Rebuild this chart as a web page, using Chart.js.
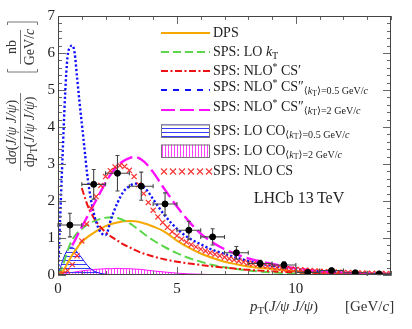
<!DOCTYPE html>
<html>
<head>
<meta charset="utf-8">
<script src="https://cdn.jsdelivr.net/npm/chart.js@4.4.0/dist/chart.umd.min.js"></script>
<style>
  html, body { margin: 0; padding: 0; background: #fff; }
</style>
</head>
<body>
<canvas id="chart" width="412" height="329"></canvas>
<script>
// values (pT in GeV/c, cross-section in nb/(GeV/c))
const gridX  = [0, 0.1, 0.2, 0.3, 0.4, 0.5, 0.6, 0.7, 0.8, 0.9, 1, 1.1, 1.25, 1.5, 1.75, 2, 2.25, 2.5, 2.75, 3, 3.25, 3.5, 3.75, 4, 4.5, 5, 5.5, 6, 6.5, 7, 7.5, 8, 9, 10, 11, 12, 13, 14];
const dps    = [0, 0.03, 0.1, 0.2, 0.32, 0.43, 0.54, 0.64, 0.73, 0.82, 0.89, 0.95, 1.03, 1.14, 1.24, 1.32, 1.38, 1.42, 1.45, 1.46, 1.45, 1.42, 1.37, 1.31, 1.16, 0.93, 0.74, 0.58, 0.46, 0.36, 0.29, 0.23, 0.16, 0.1, 0.07, 0.05, 0.03, 0.02];
const loKt   = [0, 0.1, 0.25, 0.45, 0.65, 0.82, 0.95, 1.05, 1.13, 1.2, 1.25, 1.3, 1.36, 1.45, 1.51, 1.55, 1.56, 1.54, 1.48, 1.4, 1.29, 1.17, 1.05, 0.94, 0.75, 0.59, 0.46, 0.36, 0.27, 0.21, 0.16, 0.12, 0.07, 0.04, 0.03, 0.02, 0.01, 0.01];
const nloCs1 = [null, null, null, null, null, null, null, null, null, null, 2.35, 2.15, 1.87, 1.55, 1.32, 1.16, 1.03, 0.93, 0.83, 0.75, 0.67, 0.6, 0.55, 0.5, 0.42, 0.36, 0.31, 0.27, 0.23, 0.2, 0.17, 0.14, 0.1, 0.07, 0.05, 0.04, 0.03, 0.02];
const nloCs2a = [0, 1.7, 3.35, 4.9, 5.9, 6.15, 6.2, 6.0, 5.35, 4.7, 4.1, 3.5, 2.6, 1.68, 1.2, 1.08, 1.55, 1.95, 2.25, 2.4, 2.47, 2.42, 2.28, 2.05, 1.6, 1.25, 1.0, 0.83, 0.68, 0.57, 0.47, 0.38, 0.25, 0.16, 0.1, 0.07, 0.04, 0.03];
const nloCs2b = [null, null, null, null, null, null, 0.8, 0.92, 1.05, 1.17, 1.3, 1.42, 1.6, 1.9, 2.2, 2.5, 2.75, 2.95, 3.08, 3.16, 3.19, 3.12, 2.98, 2.78, 2.3, 1.85, 1.45, 1.12, 0.88, 0.7, 0.56, 0.45, 0.3, 0.18, 0.1, 0.06, 0.04, 0.02];
const loCoA  = [0, 0.2, 0.4, 0.56, 0.68, 0.75, 0.75, 0.7, 0.62, 0.54, 0.46, 0.37, 0.25, 0.11, 0.05, 0.02, 0.01, 0, 0, 0, 0, 0, 0, 0, 0, 0, 0, 0, 0, 0, 0, 0, 0, 0, 0, 0, 0, 0];
const loCoB  = [0, 0.01, 0.02, 0.03, 0.05, 0.06, 0.07, 0.08, 0.09, 0.1, 0.11, 0.12, 0.13, 0.15, 0.16, 0.17, 0.17, 0.18, 0.17, 0.17, 0.16, 0.15, 0.13, 0.11, 0.08, 0.05, 0.03, 0.02, 0.01, 0.01, 0, 0, 0, 0, 0, 0, 0, 0];

const nloCsX = [0, 0.2, 0.4, 0.6, 0.8, 1, 1.2, 1.4, 1.6, 1.8, 2, 2.2, 2.4, 2.6, 2.8, 3, 3.2, 3.4, 3.6, 3.8, 4, 4.2, 4.4, 4.6, 4.8, 5, 5.2, 5.4, 5.6, 5.8, 6, 6.2, 6.4, 6.6, 6.8, 7, 7.2, 7.4, 7.6, 7.8, 8, 8.2, 8.4, 8.6, 8.8, 9, 9.2, 9.4, 9.6, 9.8, 10, 10.2, 10.4, 10.6, 10.8, 11, 11.2, 11.4, 11.6, 11.8, 12, 12.2, 12.4, 12.6, 12.8, 13, 13.2, 13.4, 13.6, 13.8, 14];
const nloCsY = [0, 0.04, 0.12, 0.28, 0.52, 0.92, 1.38, 1.8, 2.12, 2.42, 2.66, 2.82, 2.92, 2.96, 2.93, 2.83, 2.66, 2.44, 2.2, 1.96, 1.75, 1.57, 1.42, 1.29, 1.17, 1.06, 0.97, 0.89, 0.82, 0.76, 0.7, 0.65, 0.6, 0.56, 0.52, 0.48, 0.44, 0.41, 0.38, 0.35, 0.32, 0.3, 0.28, 0.26, 0.24, 0.22, 0.2, 0.19, 0.17, 0.16, 0.15, 0.14, 0.13, 0.12, 0.11, 0.1, 0.09, 0.085, 0.08, 0.075, 0.07, 0.065, 0.06, 0.055, 0.05, 0.047, 0.044, 0.041, 0.038, 0.035, 0.032];

const dataX  = [0.5, 1.5, 2.5, 3.5, 4.5, 5.5, 6.5, 7.5, 8.5, 9.5, 10.5, 11.5, 12.5, 13.5];
const dataY  = [1.35, 2.45, 2.75, 2.4, 1.92, 1.21, 1.03, 0.6, 0.31, 0.27, 0.07, 0.12, 0.06, 0.03];
const dataEy = [0.32, 0.4, 0.48, 0.38, 0.3, 0.24, 0.22, 0.17, 0.09, 0.09, 0.04, 0.04, 0.03, 0.02];
const dataEx = [0.5, 0.5, 0.5, 0.5, 0.5, 0.5, 0.5, 0.5, 0.5, 0.5, 0.5, 0.5, 0.5, 0.5];

const xTicks = [0, 5, 10];
const yTicks = [0, 1, 2, 3, 4, 5, 6, 7];

const serif = '"Liberation Serif", "DejaVu Serif", serif';
const col = {
  dps: '#f5a800', green: '#5cd64a', red: '#ee1111', blue: '#1010ff', mag: '#ff10ff', cross: 'rgba(250,40,40,0.95)'
};

function pts(xs, ys) {
  return xs.map((x, i) => ({ x: x, y: ys[i] })).filter(p => p.y !== null);
}

const canvas = document.getElementById('chart');
const ctx0 = canvas.getContext('2d');

function hatch(color, vertical, step) {
  const c = document.createElement('canvas');
  c.width = step; c.height = step;
  const g = c.getContext('2d');
  g.strokeStyle = color;
  g.lineWidth = 1;
  g.beginPath();
  if (vertical) { g.moveTo(0.5, 0); g.lineTo(0.5, step); }
  else { g.moveTo(0, 0.5); g.lineTo(step, 0.5); }
  g.stroke();
  return ctx0.createPattern(c, 'repeat');
}
const blueHatch = hatch('#3a3aff', false, 4);
const magHatch = hatch('#ff40ff', true, 3);

// rich text: segments [text, flags]; flags: i italic, 1/2 subscript level, ^ superscript
function richFont(size, f) {
  let s = size;
  if (f.includes('1')) s = size * 0.72;
  if (f.includes('2')) s = size * 0.55;
  if (f.includes('^')) s = size * 0.7;
  return (f.includes('i') ? 'italic ' : '') + s.toFixed(1) + 'px ' + serif;
}
function richOff(size, f) {
  if (f.includes('2')) return size * 0.45;
  if (f.includes('1')) return size * 0.3;
  if (f.includes('^')) return -size * 0.28;
  return 0;
}
function richWidth(ctx, segs, size) {
  let w = 0;
  segs.forEach(s => { ctx.font = richFont(size, s[1]); w += ctx.measureText(s[0]).width; });
  return w;
}
function rich(ctx, segs, x, y, size, align) {
  let cx = x;
  if (align === 'center') cx = x - richWidth(ctx, segs, size) / 2;
  ctx.textBaseline = 'middle';
  ctx.textAlign = 'left';
  segs.forEach(s => {
    ctx.font = richFont(size, s[1]);
    ctx.fillText(s[0], cx, y + richOff(size, s[1]));
    cx += ctx.measureText(s[0]).width;
  });
}

const kt05 = [['⟨', '1'], ['k', '1i'], ['T', '2'], ['⟩=0.5 GeV/', '1'], ['c', '1i']];
const kt2 = [['⟨', '1'], ['k', '1i'], ['T', '2'], ['⟩=2 GeV/', '1'], ['c', '1i']];
const legendRows = [
  { kind: 'line', color: col.dps, dash: [], w: 2, y: 33, text: [['DPS', '']] },
  { kind: 'line', color: col.green, dash: [8, 4], w: 2, y: 52, text: [['SPS: LO ', ''], ['k', 'i'], ['T', '1']] },
  { kind: 'line', color: col.red, dash: [7, 2.5, 2, 2.5], w: 2, y: 71, text: [['SPS: NLO', ''], ['*', '^'], [' CS′', '']] },
  { kind: 'line', color: col.blue, dash: [6, 6], w: 2.2, y: 90, ty: 87.5, text: [['SPS: NLO', ''], ['*', '^'], [' CS″', '']].concat(kt05) },
  { kind: 'line', color: col.mag, dash: [14, 5], w: 2.2, y: 110, ty: 107, text: [['SPS: NLO', ''], ['*', '^'], [' CS″', '']].concat(kt2) },
  { kind: 'box', fill: blueHatch, y: 131, text: [['SPS: LO CO', '']].concat(kt05) },
  { kind: 'box', fill: magHatch, y: 151, text: [['SPS: LO CO', '']].concat(kt2) },
  { kind: 'cross', y: 171.5, text: [['SPS: NLO CS', '']] }
];

function drawLegend(chart) {
  const ctx = chart.ctx;
  const x0 = 161, x1 = 210, tx = 213;
  ctx.save();
  legendRows.forEach(r => {
    if (r.kind === 'line') {
      ctx.strokeStyle = r.color; ctx.lineWidth = r.w; ctx.setLineDash(r.dash);
      ctx.beginPath(); ctx.moveTo(x0, r.y); ctx.lineTo(x1, r.y); ctx.stroke();
      ctx.setLineDash([]);
    } else if (r.kind === 'box') {
      ctx.fillStyle = r.fill;
      ctx.fillRect(x0, r.y - 6.5, x1 - x0, 13);
      ctx.strokeStyle = '#777'; ctx.lineWidth = 1;
      ctx.strokeRect(x0 + 0.5, r.y - 6, x1 - x0 - 1, 12.5);
    } else {
      ctx.strokeStyle = col.cross; ctx.lineWidth = 1.1;
      for (let i = 0; i < 6; i++) {
        const cx = 164 + i * 9;
        ctx.beginPath();
        ctx.moveTo(cx - 3, r.y - 3); ctx.lineTo(cx + 3, r.y + 3);
        ctx.moveTo(cx - 3, r.y + 3); ctx.lineTo(cx + 3, r.y - 3);
        ctx.stroke();
      }
    }
    ctx.fillStyle = '#222';
    rich(ctx, r.text, tx, r.ty || r.y, 14, 'left');
  });
  ctx.font = '16px ' + serif;
  ctx.textAlign = 'center'; ctx.textBaseline = 'middle';
  ctx.fillText('LHCb 13\u2009TeV', 299, 199);
  ctx.restore();
}

function drawErrors(chart) {
  const ctx = chart.ctx, xs = chart.scales.x, ys = chart.scales.y;
  ctx.save();
  ctx.strokeStyle = '#444'; ctx.lineWidth = 1.1;
  dataX.forEach((x, i) => {
    const px = xs.getPixelForValue(x), py = ys.getPixelForValue(dataY[i]);
    const xl = xs.getPixelForValue(x - dataEx[i]), xr = xs.getPixelForValue(x + dataEx[i]);
    const yt = ys.getPixelForValue(dataY[i] + dataEy[i]), yb = ys.getPixelForValue(dataY[i] - dataEy[i]);
    ctx.beginPath();
    ctx.moveTo(xl, py); ctx.lineTo(xr, py);
    ctx.moveTo(xl, py - 2); ctx.lineTo(xl, py + 2);
    ctx.moveTo(xr, py - 2); ctx.lineTo(xr, py + 2);
    ctx.moveTo(px, yt); ctx.lineTo(px, yb);
    ctx.moveTo(px - 2, yt); ctx.lineTo(px + 2, yt);
    ctx.moveTo(px - 2, yb); ctx.lineTo(px + 2, yb);
    ctx.stroke();
  });
  ctx.restore();
}

function drawFrame(chart) {
  const ctx = chart.ctx, a = chart.chartArea, xs = chart.scales.x, ys = chart.scales.y;
  ctx.save();
  ctx.strokeStyle = '#666'; ctx.lineWidth = 1;
  ctx.beginPath();
  for (let v = 0; v <= 14; v++) {
    const p = Math.round(xs.getPixelForValue(v)) + 0.5;
    const len = v % 5 === 0 ? 8 : 4;
    ctx.moveTo(p, a.bottom); ctx.lineTo(p, a.bottom - len);
    ctx.moveTo(p, a.top); ctx.lineTo(p, a.top + len);
  }
  for (let k = 0; k <= 35; k++) {
    const p = Math.round(ys.getPixelForValue(k / 5)) + 0.5;
    const len = k % 5 === 0 ? 8 : 4;
    ctx.moveTo(a.left, p); ctx.lineTo(a.left + len, p);
    ctx.moveTo(a.right, p); ctx.lineTo(a.right - len, p);
  }
  ctx.stroke();
  ctx.strokeStyle = '#444';
  ctx.strokeRect(a.left + 0.5, a.top + 0.5, a.right - a.left - 1, a.bottom - a.top - 1);
  ctx.restore();
}

function drawTitles(chart) {
  const ctx = chart.ctx;
  ctx.save();
  ctx.fillStyle = '#333';
  ctx.strokeStyle = '#555';
  ctx.lineWidth = 0.8;
  // x title
  rich(ctx, [['p', 'i'], ['T', '1'], ['(', ''], ['J/ψ J/ψ', 'i'], [')', '']], 250, 307, 15, 'left');
  rich(ctx, [['[GeV/', ''], ['c', 'i'], [']', '']], 345, 307, 15, 'left');
  // y title, rotated
  ctx.translate(20.5, 132);
  ctx.rotate(-Math.PI / 2);
  rich(ctx, [['d', ''], ['σ', 'i'], ['(', ''], ['J/ψ J/ψ', 'i'], [')', '']], 0, -8, 14, 'center');
  rich(ctx, [['d', ''], ['p', 'i'], ['T', '1'], ['(', ''], ['J/ψ J/ψ', 'i'], [')', '']], 0, 9.5, 14, 'center');
  ctx.beginPath(); ctx.moveTo(-39, 0); ctx.lineTo(39, 0); ctx.stroke();
  // units
  ctx.translate(85, 0);
  rich(ctx, [['nb', '']], 0, -8, 14, 'center');
  rich(ctx, [['GeV/', ''], ['c', 'i']], 0, 9.5, 14, 'center');
  ctx.beginPath(); ctx.moveTo(-17, 0); ctx.lineTo(17, 0); ctx.stroke();
  ctx.beginPath();
  ctx.moveTo(-22, -13); ctx.lineTo(-25, -13); ctx.lineTo(-25, 17); ctx.lineTo(-22, 17);
  ctx.moveTo(22, -13); ctx.lineTo(25, -13); ctx.lineTo(25, 17); ctx.lineTo(22, 17);
  ctx.stroke();
  ctx.restore();
}

const decor = {
  id: 'decor',
  beforeDatasetDraw(chart, args) { if (args.index === 0) drawErrors(chart); },
  afterDraw(chart) { drawFrame(chart); drawTitles(chart); drawLegend(chart); }
};

function curve(data, color, dash, width) {
  return {
    data: data, borderColor: color, borderDash: dash, borderWidth: width,
    pointRadius: 0, fill: false, cubicInterpolationMode: 'monotone'
  };
}

new Chart(canvas, {
  type: 'line',
  data: {
    datasets: [
      { data: pts(dataX, dataY), showLine: false, pointRadius: 3, pointBackgroundColor: '#000', pointBorderColor: '#000', borderColor: '#000' },
      { data: pts(nloCsX, nloCsY), showLine: false, pointStyle: 'crossRot', pointRadius: 3.6, pointBorderWidth: 1.2, pointBorderColor: col.cross, borderColor: col.cross },
      curve(pts(gridX, nloCs2b), col.mag, [14, 5], 2.4),
      curve(pts(gridX, nloCs2a), col.blue, [2.2, 2.2], 2.4),
      curve(pts(gridX, nloCs1), col.red, [7, 2.5, 2, 2.5], 2),
      curve(pts(gridX, loKt), col.green, [9, 4], 2),
      curve(pts(gridX, dps), col.dps, [], 2),
      { data: pts(gridX, loCoA), borderColor: col.blue, borderWidth: 1, backgroundColor: blueHatch, fill: 'origin', pointRadius: 0, cubicInterpolationMode: 'monotone' },
      { data: pts(gridX, loCoB), borderColor: col.mag, borderWidth: 1, backgroundColor: magHatch, fill: 'origin', pointRadius: 0, cubicInterpolationMode: 'monotone' }
    ]
  },
  options: {
    responsive: false,
    animation: false,
    devicePixelRatio: 1,
    layout: { padding: { top: 16, right: 21, left: 0, bottom: 0 } },
    plugins: { legend: { display: false }, tooltip: { enabled: false } },
    scales: {
      x: {
        type: 'linear', min: 0, max: 14,
        grid: { display: false, drawTicks: false },
        border: { display: false },
        afterBuildTicks: s => { s.ticks = xTicks.map(v => ({ value: v })); },
        afterFit: s => { s.height = 54; },
        ticks: { font: { family: serif, size: 15 }, color: '#222', padding: 5, maxRotation: 0 }
      },
      y: {
        min: 0, max: 7,
        grid: { display: false, drawTicks: false },
        border: { display: false },
        afterBuildTicks: s => { s.ticks = yTicks.map(v => ({ value: v })); },
        afterFit: s => { s.width = 58; },
        ticks: { font: { family: serif, size: 15 }, color: '#222', padding: 3 }
      }
    }
  },
  plugins: [decor]
});
</script>
</body>
</html>
